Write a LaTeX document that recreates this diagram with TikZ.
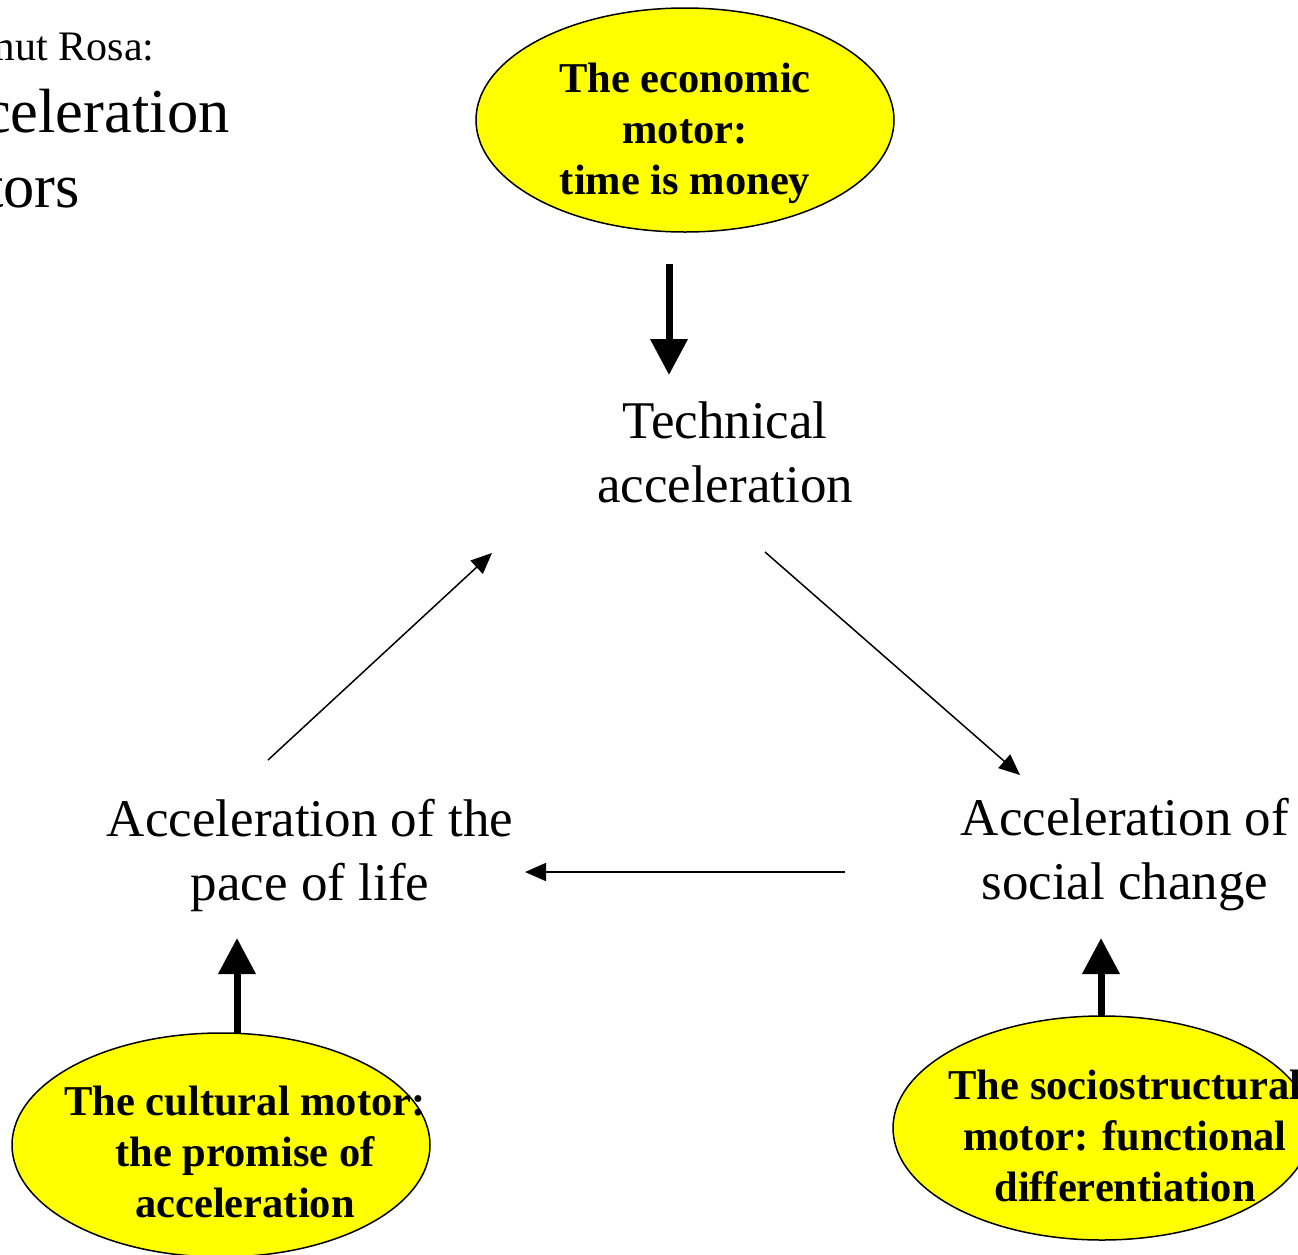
\documentclass[tikz,border=0pt]{standalone}
\usepackage{fontspec}
\setmainfont{Liberation Serif}
\usetikzlibrary{arrows.meta,calc,shapes.geometric}
\definecolor{motoryellow}{RGB}{255,255,0}

\begin{document}
\begin{tikzpicture}[x=1pt, y=-1pt, line join=bevel,
        stagenode/.style={inner sep=0pt, align=center, font=\fontsize{53}{64}\selectfont},
        motornode/.style={shape=ellipse, fill=motoryellow, draw=black, line width=1.5pt,
          minimum width=418pt, minimum height=224pt, inner sep=0pt},
        motortext/.style={inner sep=0pt, align=center, font=\fontsize{42.5}{51}\selectfont\bfseries},
        motorarrow/.style={line width=7pt, -{Triangle[width=36pt, length=36pt]}},
        cyclearrow/.style={line width=1.5pt, -{Triangle[width=18pt, length=21pt]}}]
        \useasboundingbox (0,0) rectangle (1298,1254);
        \clip (0,0) rectangle (1298,1254);
        % Title
        \node[anchor=base west, inner sep=0pt, font=\fontsize{42}{50}\selectfont] (author) at (-92,60) {Hartmut Rosa:};
        \node[anchor=base west, inner sep=0pt, font=\fontsize{62.5}{75}\selectfont] (title1) at (-90,132) {Acceleration};
        \node[anchor=base west, inner sep=0pt, font=\fontsize{62.5}{75}\selectfont] (title2) at (-94,207) {motors};
        % Stages of acceleration
        \node[stagenode] (technical) at (725,452) {Technical\\acceleration};
        \node[stagenode] (pace) at (310,855) {Acceleration of the\\pace of life};
        \node[stagenode] (social) at (1125,855) {Acceleration of\\social change};
        % Motors
        \node[motornode] (economic) at (685,120) {};
        \node[motortext] at (685,133) {The economic\\motor:\\time is money};
        \node[motornode] (cultural) at (221,1145) {};
        \node[motortext] at (245,1152) {The cultural motor:\\the promise of\\acceleration};
        \node[motornode] (socio) at (1102,1128) {};
        \node[motortext] at (1125,1136) {The sociostructural\\motor: functional\\differentiation};
        % Motor arrows
        \draw[motorarrow] ($(economic)+(-16,144)$) -- ($(technical)+(-56,-77)$);
        \draw[motorarrow] ($(cultural)+(16,-112)$) -- ($(pace)+(-73,83)$);
        \draw[motorarrow] ($(socio)+(-1,-112)$) -- ($(social)+(-24,83)$);
        % Cycle
        \draw[cyclearrow] ($(pace)+(-42,-95)$) -- ($(technical)+(-233,101)$);
        \draw[cyclearrow] ($(technical)+(40,100)$) -- ($(social)+(-105,-80)$);
        \draw[cyclearrow] ($(social)+(-280,17)$) -- ($(pace)+(215,17)$);
\end{tikzpicture}
\end{document}
